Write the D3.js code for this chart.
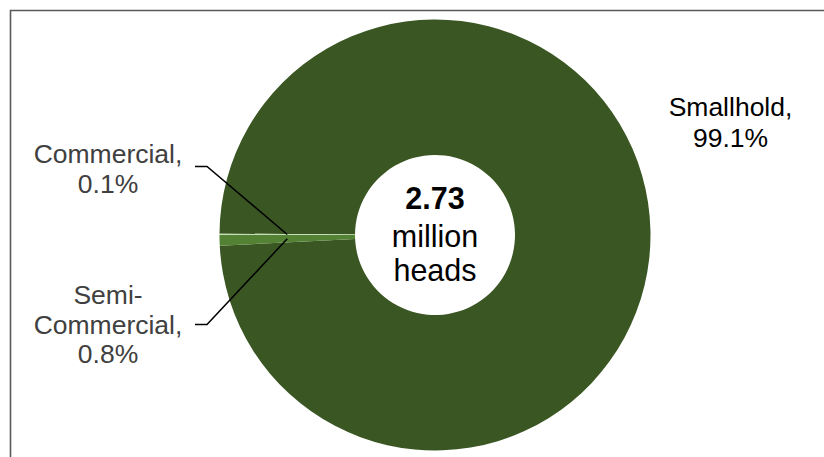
<!DOCTYPE html>
<html><head><meta charset="utf-8">
<script src="https://cdn.jsdelivr.net/npm/d3@7"></script>
<style>html,body{margin:0;padding:0;background:#fff;}svg{display:block;}</style>
</head><body>
<svg id="chart" width="824" height="457"></svg>
<script>
const categories = ["Smallhold", "Semi-Commercial", "Commercial"];
const values = [99.1, 0.8, 0.1];
const labelLines = [["Smallhold,", "99.1%"], ["Semi-", "Commercial,", "0.8%"], ["Commercial,", "0.1%"]];
const totalLines = ["2.73", "million", "heads"];
const colors = ["#3a5623", "#548235", "#c5e0b4"];

const svg = d3.select("#chart");
const cx = 435, cy = 235, rOuter = 215.5, rInner = 80;

svg.append("path").attr("d", "M10.5,470 V10.5 H840").attr("fill", "none").attr("stroke", "#595959").attr("stroke-width", 1.6);

const total = d3.sum(values);
const startDeg = 270 - 360 * (values[0] + values[1]) / total;
const pie = d3.pie().sort(null).value(d => d).startAngle(startDeg * Math.PI / 180).endAngle((startDeg + 360) * Math.PI / 180);
const arcs = pie(values);
const arc = d3.arc().innerRadius(rInner).outerRadius(rOuter);
const g = svg.append("g").attr("transform", `translate(${cx},${cy})`);
g.selectAll("path.slice").data(arcs).join("path").attr("class", "slice")
  .attr("d", arc).attr("fill", (d, i) => colors[i]);

const font = "'Liberation Sans', Arial, sans-serif";
const fs = 26.5, lh = 30;

const leaders = [
  null,
  {lx: 195, ly: 324.5, label: {x: 108, y: 304}},
  {lx: 195, ly: 166.5, label: {x: 108, y: 162.5}}
];
arcs.forEach((a, i) => {
  const L = leaders[i];
  if (!L) return;
  const c = arc.centroid(a);
  const px = cx + c[0], py = cy + c[1];
  svg.append("polyline").attr("points", `${L.lx},${L.ly} ${L.lx + 12},${L.ly} ${px},${py}`)
    .attr("fill", "none").attr("stroke", "#000").attr("stroke-width", 1.5);
  const t = svg.append("text").attr("font-family", font).attr("font-size", fs).attr("fill", "#404040").attr("text-anchor", "middle");
  labelLines[i].forEach((s, k) => t.append("tspan").attr("x", L.label.x).attr("y", L.label.y + k * (i === 1 ? 29.5 : lh)).text(s));
});

const t0 = svg.append("text").attr("font-family", font).attr("font-size", fs).attr("fill", "#000").attr("text-anchor", "middle");
labelLines[0].forEach((s, k) => t0.append("tspan").attr("x", 730.5).attr("y", 116 + k * 30.5).text(s));

const tc = svg.append("text").attr("font-family", font).attr("font-size", 30.5).attr("fill", "#000").attr("text-anchor", "middle");
const cys = [208.5, 246.5, 281];
totalLines.forEach((s, k) => tc.append("tspan").attr("x", cx).attr("y", cys[k]).attr("font-weight", k === 0 ? "bold" : "normal").text(s));
</script>
</body></html>
